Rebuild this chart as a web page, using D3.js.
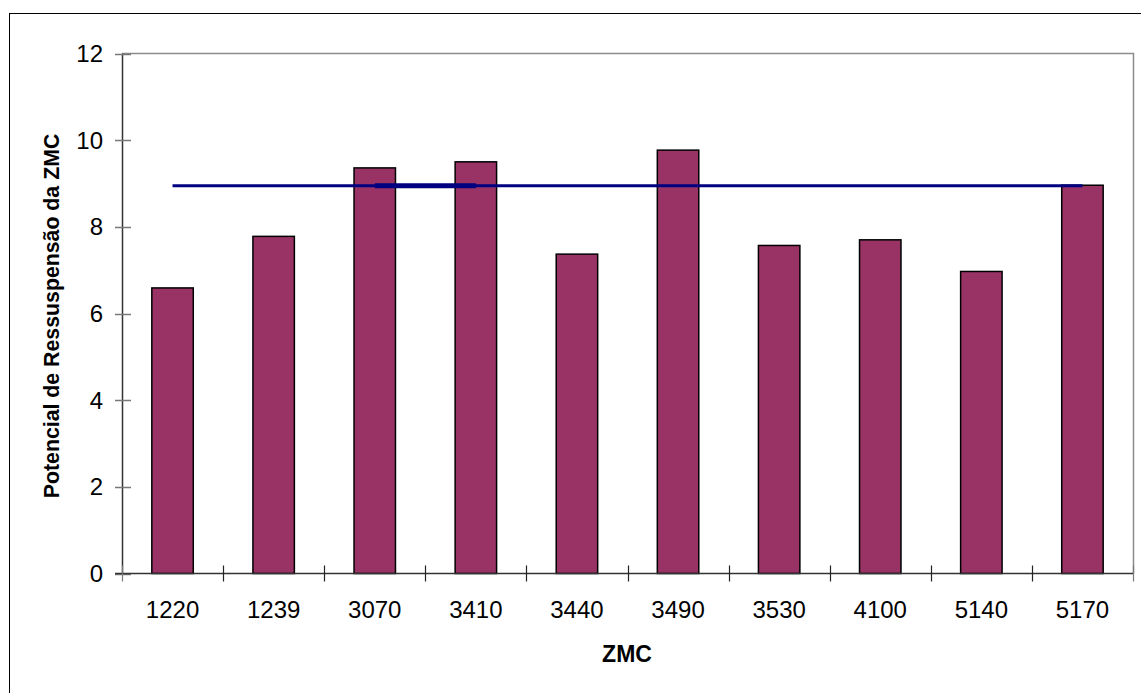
<!DOCTYPE html>
<html><head><meta charset="utf-8">
<script src="https://cdn.jsdelivr.net/npm/d3@7"></script>
<style>html,body{margin:0;padding:0;background:#fff;}svg{display:block;}</style>
</head><body>
<svg id="c" width="1141" height="693"></svg>
<script>
const categories = ["1220","1239","3070","3410","3440","3490","3530","4100","5140","5170"];
const barValues = [6.59, 7.78, 9.36, 9.50, 7.37, 9.77, 7.57, 7.70, 6.97, 8.96];
const lineValues = [8.95, 8.95, 8.95, 8.95, 8.95, 8.95, 8.95, 8.95, 8.95, 8.95];
const overlapValues = [null, null, 8.95, 8.95, null, null, null, null, null, null];
const yTicks = [0, 2, 4, 6, 8, 10, 12];
const xTitle = "ZMC";
const yTitle = "Potencial de Ressuspensão da ZMC";

const svg = d3.select("#c");
const L = 122, R = 1133, T = 53.5, B = 573.5;
const font = "Arial, 'Liberation Sans', sans-serif";

// outer chart border
svg.append("rect").attr("x", 9.5).attr("y", 13.5).attr("width", 1160).attr("height", 700)
  .attr("fill", "#fff").attr("stroke", "#000").attr("stroke-width", 1);

const x = d3.scaleBand().domain(categories).range([L, R]).paddingInner(0.59).paddingOuter(0.295);
const y = d3.scaleLinear().domain([0, 12]).range([B, T]);

// plot area border (top, right)
svg.append("path").attr("d", `M${L},${T}H${R + 0.5}V${B}`).attr("fill", "none")
  .attr("stroke", "#8c8c8c").attr("stroke-width", 1.5);

// bars
svg.append("g").selectAll("rect").data(barValues).join("rect")
  .attr("x", (d, i) => x(categories[i]))
  .attr("y", d => y(d))
  .attr("width", x.bandwidth())
  .attr("height", d => y(0) - y(d))
  .attr("fill", "#993366").attr("stroke", "#000").attr("stroke-width", 1.5);

// line series
const line = d3.line().defined(d => d != null)
  .x((d, i) => x(categories[i]) + x.bandwidth() / 2).y(d => y(d));
svg.append("path").datum(lineValues).attr("d", line).attr("fill", "none")
  .attr("stroke", "#000080").attr("stroke-width", 3);
svg.append("path").datum(overlapValues).attr("d", line).attr("fill", "none")
  .attr("stroke", "#000080").attr("stroke-width", 5);

// y axis
svg.append("line").attr("x1", L + 0.5).attr("x2", L + 0.5).attr("y1", T).attr("y2", B)
  .attr("stroke", "#333").attr("stroke-width", 1.5);
const yg = svg.append("g");
yg.selectAll("line").data(yTicks).join("line")
  .attr("x1", L - 7).attr("x2", L + 9).attr("y1", d => Math.round(y(d)) + 0.5).attr("y2", d => Math.round(y(d)) + 0.5)
  .attr("stroke", "#777").attr("stroke-width", 1.5);
yg.selectAll("text").data(yTicks).join("text")
  .attr("x", 103).attr("y", d => y(d)).attr("dy", "0.35em")
  .attr("text-anchor", "end").attr("font-family", font).attr("font-size", 24).attr("fill", "#000")
  .text(d => d);

// x axis
svg.append("line").attr("x1", L - 7).attr("x2", R + 0.5).attr("y1", B).attr("y2", B)
  .attr("stroke", "#333").attr("stroke-width", 1.5);
const step = x.step();
const bounds = categories.map(c => x(c) - (step - x.bandwidth()) / 2).concat([x(categories[categories.length - 1]) + x.bandwidth() + (step - x.bandwidth()) / 2]);
svg.append("g").selectAll("line").data(bounds).join("line")
  .attr("x1", d => Math.round(d) + 0.5).attr("x2", d => Math.round(d) + 0.5)
  .attr("y1", B - 8).attr("y2", B + 8)
  .attr("stroke", (d, i) => (i === 0 || i === bounds.length - 1) ? "#777" : "#222").attr("stroke-width", 1.2);
svg.append("g").selectAll("text").data(categories).join("text")
  .attr("x", d => x(d) + x.bandwidth() / 2).attr("y", 618)
  .attr("text-anchor", "middle").attr("font-family", font).attr("font-size", 24).attr("fill", "#000")
  .text(d => d);

// titles
svg.append("text").attr("x", 627).attr("y", 662).attr("text-anchor", "middle")
  .attr("font-family", font).attr("font-size", 23).attr("font-weight", "bold").text(xTitle);
svg.append("text").attr("transform", "translate(59,316) rotate(-90)").attr("text-anchor", "middle")
  .attr("font-family", font).attr("font-size", 21.3).attr("font-weight", "bold").text(yTitle);
</script>
</body></html>
